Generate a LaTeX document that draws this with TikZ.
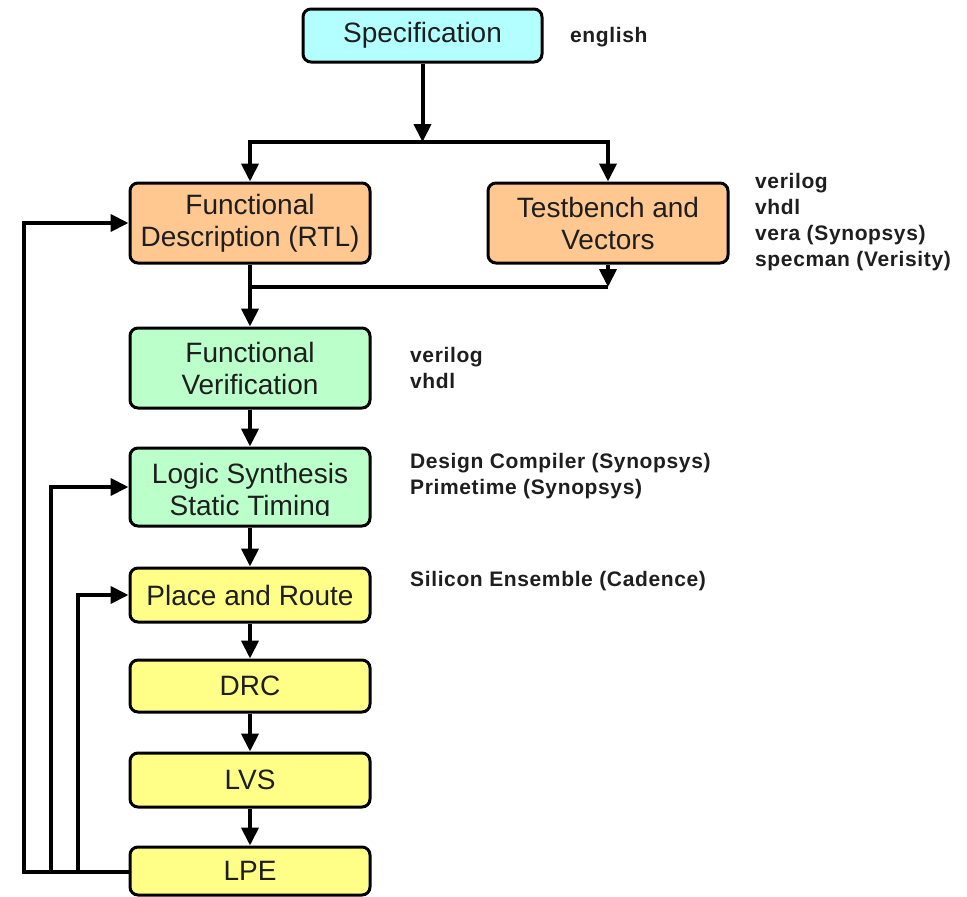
\documentclass[tikz,border=0pt]{standalone}
\usepackage{fontspec}
\setmainfont{Liberation Sans}
\newfontfamily\toolfont[LetterSpace=3]{Liberation Sans}
\usetikzlibrary{arrows.meta}
\definecolor{specfill}{HTML}{B3FFFF}
\definecolor{rtlfill}{HTML}{FFC891}
\definecolor{verfill}{HTML}{BBFFCA}
\definecolor{physfill}{HTML}{FFFF88}
\definecolor{ink}{HTML}{1E1E1E}
\tikzset{
  box/.style={draw=black, line width=3pt, rounded corners=8pt, minimum width=240pt,
    inner sep=0pt, align=center, text=ink, font=\fontsize{28}{32}\selectfont},
  flow/.style={line width=4pt, -{Triangle[width=17pt,length=18pt]}},
  flowboth/.style={line width=4pt, {Triangle[width=17pt,length=18pt]}-{Triangle[width=17pt,length=18pt]}},
  wire/.style={line width=4pt},
  tool/.style={anchor=west, align=left, inner sep=0pt, text=ink,
    font=\toolfont\bfseries\fontsize{21}{26}\selectfont},
}
\begin{document}
\begin{tikzpicture}[x=1pt,y=-1pt]
\useasboundingbox (0,0) rectangle (967,897);

% process boxes
\node[box, fill=specfill, minimum width=239pt, minimum height=53pt] (spec) at (422.5,35.5) {Specification};
\node[box, fill=rtlfill, minimum height=80pt] (fd) at (250,223) {Functional\\Description (RTL)};
\node[box, fill=rtlfill, minimum height=80pt] (tb) at (608,223) {Testbench and\\Vectors};
\node[box, fill=verfill, minimum height=80pt] (fv) at (250,368) {Functional\\Verification};
\node[box, fill=verfill, minimum height=78pt] (ls) at (250,487) {};
\begin{scope}
  \clip (135,450) rectangle (365,515);
  \node[align=center, inner sep=0pt, text=ink, font=\fontsize{28}{32}\selectfont,
    yshift=-5pt] (lstext) at (ls) {Logic Synthesis\\Static Timing};
\end{scope}
\node[box, fill=physfill, minimum height=54pt] (pr) at (250,595) {Place and Route};
\node[box, fill=physfill, minimum height=52pt] (drc) at (250,686) {DRC};
\node[box, fill=physfill, minimum height=54pt] (lvs) at (250,780) {LVS};
\node[box, fill=physfill, minimum height=48pt] (lpe) at (250,871) {LPE};

% split and merge points
\coordinate (split) at (422.5,142);
\coordinate (merge) at (608,287);

\draw[flow] (spec) -- (split);
\draw[flowboth] (fd.north) -- (fd.north |- split) -- (tb.north |- split) -- (tb.north);
\draw[flow] (tb.south) -- (merge);
\draw[wire] (merge) -- (fd.south |- merge);
\draw[flow] (fd.south) -- (fv.north);
\draw[flow] (fv.south) -- (ls.north);
\draw[flow] (ls.south) -- (pr.north);
\draw[flow] (pr.south) -- (drc.north);
\draw[flow] (drc.south) -- (lvs.north);
\draw[flow] (lvs.south) -- (lpe.north);

% feedback loops from LPE
\coordinate (fbouter) at (24,872);
\coordinate (fbmid) at (51,872);
\coordinate (fbinner) at (78,872);
\draw[wire] (lpe.west |- fbouter) -- (fbinner);
\draw[flow] (lpe.west |- fbouter) -- (fbouter) -- (fbouter |- fd.west) -- (fd.west);
\draw[flow] (fbmid) -- (fbmid |- ls.west) -- (ls.west);
\draw[flow] (fbinner) -- (fbinner |- pr.west) -- (pr.west);

% tool annotations
\node[tool] (t0) at (570,37) {english};
\node[tool] (t1) at (755,222) {verilog\\vhdl\\vera (Synopsys)\\specman (Verisity)};
\node[tool] (t2) at (410,368) {verilog\\vhdl};
\node[tool] (t3) at (410,476) {Design Compiler (Synopsys)\\Primetime (Synopsys)};
\node[tool] (t4) at (410,581) {Silicon Ensemble (Cadence)};
\end{tikzpicture}
\end{document}
